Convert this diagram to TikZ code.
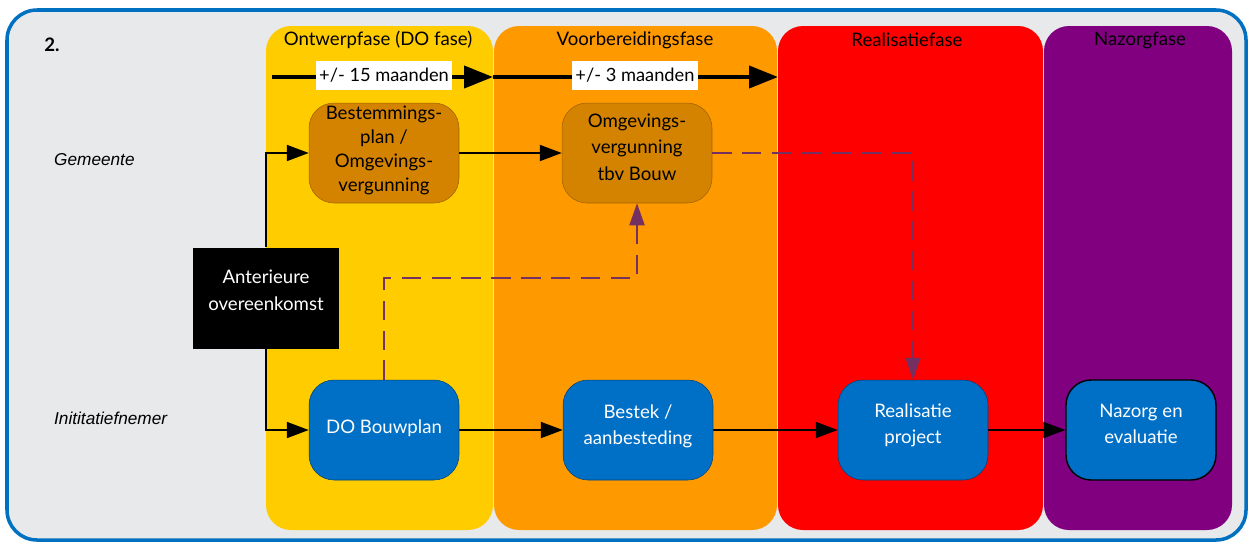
\documentclass[tikz,border=0pt]{standalone}
\usepackage{fontspec}
\setmainfont{Lato}
\newfontfamily\arialfont{Liberation Sans}
\usepackage{xcolor}
\usetikzlibrary{arrows.meta,positioning}
\definecolor{framebg}{HTML}{E8E9EB}
\definecolor{frameblue}{HTML}{0070C0}
\definecolor{ontwerpcol}{HTML}{FFCC00}
\definecolor{voorbcol}{HTML}{FF9900}
\definecolor{realiscol}{HTML}{FF0000}
\definecolor{nazorgcol}{HTML}{800080}
\definecolor{boxbrown}{HTML}{D38300}
\definecolor{boxblue}{HTML}{006FC6}
\definecolor{linkpurple}{HTML}{733060}
\newcommand{\boxfont}{\fontsize{10.6}{15}\selectfont}

\begin{document}
\begin{tikzpicture}[x=0.02cm, y=-0.02cm,
    phasecol/.style={rounded corners=0.5cm},
    phasetitle/.style={font=\fontsize{10.6}{12}\selectfont},
    lanelabel/.style={font=\arialfont\itshape\fontsize{9.8}{12}\selectfont, anchor=west},
    brownbox/.style={fill=boxbrown, draw=boxbrown!75!black, line width=0.3pt, rounded corners=0.5cm,
        minimum width=3cm, minimum height=2cm, align=center, font=\boxfont},
    bluebox/.style={fill=boxblue, draw=boxblue!60!black, line width=0.3pt, rounded corners=0.5cm,
        minimum width=3cm, minimum height=2cm, align=center, text=white, font=\boxfont},
    durlabel/.style={fill=white, inner xsep=2pt, minimum height=0.58cm, font=\fontsize{10.4}{12}\selectfont},
    durarrow/.style={line width=2.3pt, -{Triangle[length=0.58cm, width=0.44cm]}},
    conn/.style={line width=1.1pt, -{Triangle[length=0.44cm, width=0.32cm]}},
    dasharrow/.style={line width=1.1pt, linkpurple, dash pattern=on 11pt off 6pt,
        -{Triangle[length=0.44cm, width=0.3cm]}}
]
    \useasboundingbox (0,0) rectangle (1250,542);

    % Frame
    \draw[line width=2pt, frameblue, fill=framebg, rounded corners=0.6cm] (7,10) rectangle (1246,540);
    \node[font=\bfseries\fontsize{10.6}{12}\selectfont] (nr) at (52,45) {2.};

    % Phases
    \fill[ontwerpcol, phasecol] (266,26) rectangle (493,530);
    \fill[voorbcol, phasecol] (494,26) rectangle (777,530);
    \fill[realiscol, phasecol] (778,26) rectangle (1043,530);
    \fill[nazorgcol, phasecol] (1044,26) rectangle (1232,530);
    \node[phasetitle] (ontwerp) at (378,40) {Ontwerpfase (DO fase)};
    \node[phasetitle] (voorb) at (635,40) {Voorbereidingsfase};
    \node[phasetitle] (realis) at (907,40) {Realisatiefase};
    \node[phasetitle] (nazorg) at (1140,40) {Nazorgfase};

    % Duration
    \coordinate (dur0) at (272,77);
    \coordinate (dur1) at (493,77);
    \coordinate (dur2) at (778,77);
    \draw[durarrow] (dur0) -- (dur1);
    \draw[durarrow] (dur1) -- (dur2);
    \node[durlabel] (dur15) at (384,75) {+/- 15 maanden};
    \node[durlabel] (dur3) at (635,75) {+/- 3 maanden};

    % Lanes
    \node[lanelabel] (gemeente) at (48,160) {Gemeente};
    \node[lanelabel] (initiatief) at (48,418) {Inititatiefnemer};

    % Steps (trailing \\[..] lifts the text a little)
    \node[brownbox, inner ysep=0pt, font=\fontsize{10.6}{13.6}\selectfont] (bplan) at (384,153)
        {Bestemmings-\\plan /\\Omgevings-\\vergunning\\[-8.5pt]};
    \node[brownbox] (omgev) at (637,153) {Omgevings-\\vergunning\\tbv Bouw\\[-8pt]};
    \node[fill=black, text=white, minimum width=2.92cm, minimum height=2.02cm, align=center,
        font=\boxfont] (anter) at (266,298) {Anterieure\\overeenkomst\\[-6pt]};
    \node[bluebox] (doplan) at (384,430) {DO Bouwplan\\[-11.5pt]};
    \node[bluebox] (bestek) at (638,430) {Bestek /\\aanbesteding\\[-9pt]};
    \node[bluebox] (real) at (913,430) {Realisatie\\project\\[-8pt]};
    \node[bluebox, draw=black, line width=0.8pt] (nazorgbox) at (1141,430) {Nazorg en\\evaluatie\\[-8pt]};

    % Connectors
    \draw[conn] (anter.north) |- (bplan.west);
    \draw[conn] (anter.south) |- (doplan.west);
    \draw[conn] (bplan) -- (omgev);
    \draw[conn] (doplan) -- (bestek);
    \draw[conn] (bestek) -- (real);
    \draw[conn] (real) -- (nazorgbox);

    % Dependencies
    \coordinate (dbend) at (500,278);
    \draw[dasharrow] (doplan.north) |- (dbend) -| (omgev.south);
    \draw[dasharrow] (omgev.east) -| (real.north);
\end{tikzpicture}
\end{document}
